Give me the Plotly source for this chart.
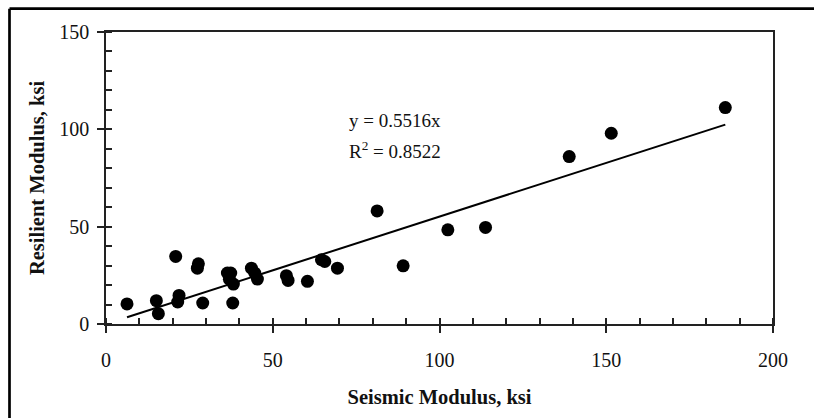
import plotly.graph_objects as go

# Data
seismic_ksi = [6.3, 15.1, 15.7, 20.9, 21.5, 21.9, 27.4, 27.7, 29.0, 36.4, 37.4, 37.0,
               38.2, 38.0, 43.6, 44.6, 45.4, 54.1, 54.6, 60.4, 64.6, 65.6, 69.4, 81.3,
               89.1, 102.5, 113.8, 138.9, 151.5, 185.7]
resilient_ksi = [10.3, 12.0, 5.3, 34.7, 11.3, 14.7, 28.7, 30.9, 10.8, 26.2, 26.2, 23.0,
                 20.5, 10.8, 28.7, 26.2, 23.1, 24.8, 22.4, 21.9, 33.0, 32.1, 28.7, 58.1,
                 29.9, 48.4, 49.6, 86.0, 98.0, 111.2]
fit_slope = 0.5516
fit_r2 = 0.8522
x_ticks = [0, 50, 100, 150, 200]
y_ticks = [0, 50, 100, 150]

W, H = 814, 418
ML, MR, MT, MB = 106, 41, 32, 94
FONT = "Liberation Serif, Times New Roman, serif"
AX = "#222222"

fit_x = [min(seismic_ksi), max(seismic_ksi)]
fit_y = [fit_slope * v for v in fit_x]

fig = go.Figure()
fig.add_trace(go.Scatter(x=seismic_ksi, y=resilient_ksi, mode="markers",
                         marker=dict(size=13, color="black"), showlegend=False))
fig.add_trace(go.Scatter(x=fit_x, y=fit_y, mode="lines",
                         line=dict(color="black", width=2), showlegend=False))
fig.add_trace(go.Scatter(x=[None], y=[None], xaxis="x2", yaxis="y2", showlegend=False,
                         mode="markers", hoverinfo="skip"))

common = dict(showgrid=False, zeroline=False, showline=True, linecolor=AX, linewidth=1.5,
              ticks="outside", ticklen=7, tickwidth=1.5, tickcolor=AX,
              tickfont=dict(family=FONT, size=20, color="#111"))

fig.update_layout(
    width=W, height=H,
    margin=dict(l=ML, r=MR, t=MT, b=MB),
    paper_bgcolor="white", plot_bgcolor="white",
    showlegend=False,
    xaxis=dict(range=[0, 200], tickvals=x_ticks, mirror=True,
               minor=dict(dtick=10, ticks="inside", ticklen=6, tickwidth=1.5, tickcolor=AX),
               ticklabelstandoff=10,
               title=dict(text="<b>Seismic Modulus, ksi</b>", standoff=20,
                          font=dict(family=FONT, size=20.5, color="#111")),
               **common),
    yaxis=dict(range=[0, 150], tickvals=y_ticks, mirror=True,
               minor=dict(dtick=10, ticks="inside", ticklen=6, tickwidth=1.5, tickcolor=AX),
               ticklabelstandoff=4,
               title=dict(text="<b>Resilient Modulus, ksi</b>", standoff=9,
                          font=dict(family=FONT, size=20.5, color="#111")),
               **common),
    xaxis2=dict(range=[0, 200], overlaying="x", anchor="y2", tickvals=x_ticks,
                showticklabels=False, showgrid=False, zeroline=False, showline=False,
                ticks="inside", ticklen=6, tickwidth=1.5, tickcolor=AX),
    yaxis2=dict(range=[0, 150], overlaying="y", anchor="x2", tickvals=y_ticks,
                showticklabels=False, showgrid=False, zeroline=False, showline=False,
                ticks="inside", ticklen=6, tickwidth=1.5, tickcolor=AX),
    annotations=[
        dict(x=72.2, y=104.5, xref="x", yref="y", xanchor="left", yanchor="middle",
             showarrow=False, text=f"y = {fit_slope}x",
             font=dict(family=FONT, size=19, color="#111")),
        dict(x=72.2, y=89.5, xref="x", yref="y", xanchor="left", yanchor="middle",
             showarrow=False, text=f"R<sup>2</sup> = {fit_r2}",
             font=dict(family=FONT, size=19, color="#111")),
    ],
)

# outer frame of the figure (only top and left edges fall inside the picture)
pw, ph = W - ML - MR, H - MT - MB
fx0 = (9.5 - ML) / pw
fx1 = (W - ML) / pw
fy_top = 1 + (MT - 8.7) / ph
fy_bot = -MB / ph
fig.add_shape(type="line", xref="paper", yref="paper", layer="above",
              x0=fx0, x1=fx1, y0=fy_top, y1=fy_top,
              line=dict(color="black", width=2.7))
fig.add_shape(type="line", xref="paper", yref="paper", layer="above",
              x0=fx0, x1=fx0, y0=fy_top, y1=fy_bot,
              line=dict(color="black", width=2.7))

fig.write_html("out.html", config={"displayModeBar": False})
